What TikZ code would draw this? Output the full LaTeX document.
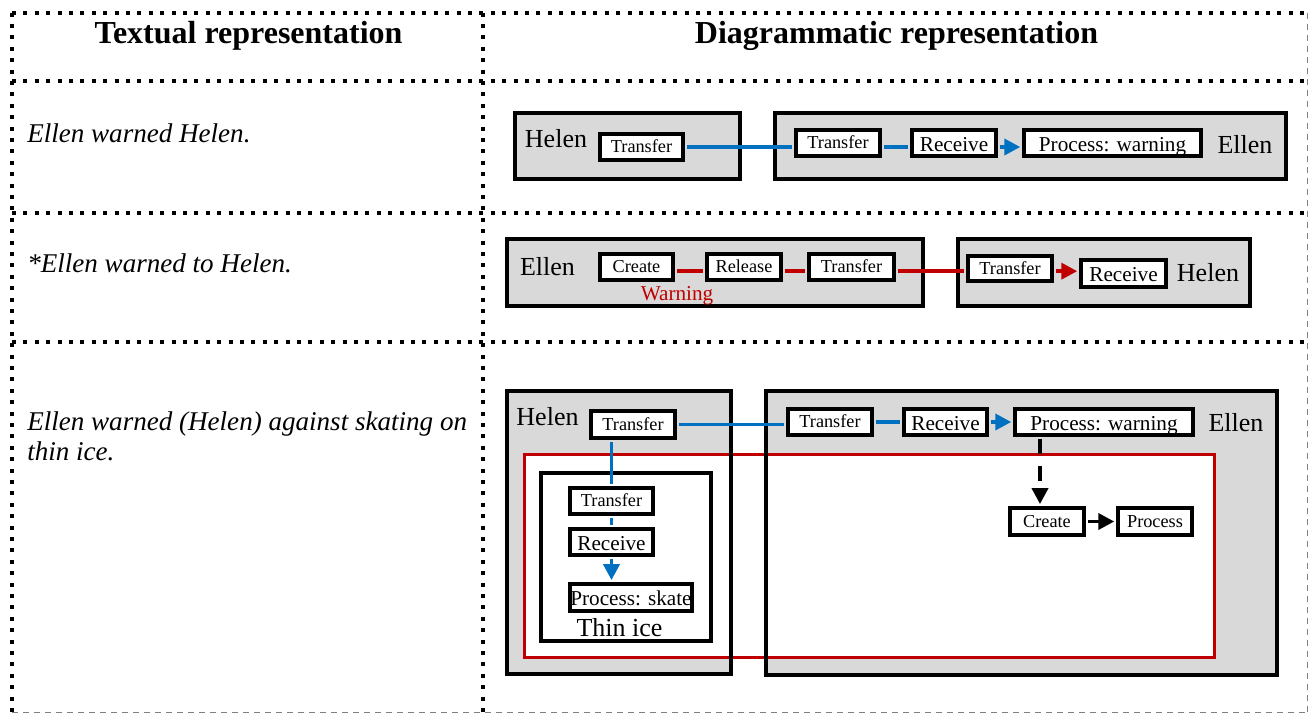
\documentclass[tikz,border=0pt]{standalone}
\usepackage{fontspec}
\setmainfont{Liberation Serif}
\usetikzlibrary{arrows.meta}
\definecolor{cblue}{HTML}{0070C0}
\definecolor{cred}{HTML}{C00000}
\definecolor{cgray}{HTML}{D9D9D9}
\newcommand{\pxu}{0.75pt}
\tikzset{
  sepdot/.style={line width=3pt, dash pattern=on 3pt off 5.55pt},
  sepgray/.style={line width=0.8pt, gray, dash pattern=on 4.5pt off 3.75pt},
  container/.style={line width=3pt, fill=cgray},
  evbox/.style={draw, line width=2.8pt, fill=white, inner sep=0pt, minimum height=19.5pt, text depth=0pt},
  smalltxt/.style={font=\fontsize{13.7}{15}\selectfont, text height=8.6pt, text depth=0pt},
  midtxt/.style={font=\fontsize{15.9}{18}\selectfont, text height=12.5pt, text depth=0pt},
  actor/.style={font=\fontsize{19.5}{22}\selectfont, inner sep=0pt},
  bodytxt/.style={font=\fontsize{20.3}{23}\selectfont\itshape, inner sep=0pt, anchor=base west},
  headtxt/.style={font=\fontsize{24}{28}\selectfont\bfseries, inner sep=0pt, anchor=base},
  conn/.style={line width=2.8pt, shorten <=1.4pt, shorten >=1.4pt},
  blueline/.style={conn, cblue},
  bluearrow/.style={blueline, -{Triangle[length=12pt,width=12pt]}},
  redline/.style={conn, cred},
  redarrow/.style={redline, -{Triangle[length=12pt,width=12pt]}},
  blackarrow/.style={conn, black, -{Triangle[length=12pt,width=12pt]}},
  blackdash/.style={blackarrow, dash pattern=on 11.25pt off 9.4pt},
}
\begin{document}
\begin{tikzpicture}[x=0.75pt, y=-0.75pt]
\useasboundingbox (0,0) rectangle (1309,714);

% table borders
\draw[sepdot] (12,12.5) -- (1308,12.5);
\draw[sepdot] (12,81) -- (1308,81);
\draw[sepdot] (12,213) -- (1308,213);
\draw[sepdot] (12,342) -- (1308,342);
\draw[sepdot] (12,12.5) -- (12,712);
\draw[sepdot] (483,12.5) -- (483,712);
\draw[sepgray] (1307.5,12.5) -- (1307.5,712.8);
\draw[sepgray] (12,712.8) -- (1307.5,712.8);

% headers
\node[headtxt] (h1) at (248.5,43.5) {Textual representation};
\node[headtxt] (h2) at (896.5,43.5) {Diagrammatic representation};

% left column texts
\node[bodytxt] (t1) at (27,142) {Ellen warned Helen.};
\node[bodytxt] (t2) at (27,272) {*Ellen warned to Helen.};
\node[bodytxt] (t3a) at (27,430) {Ellen warned (Helen) against skating on};
\node[bodytxt] (t3b) at (27,460.5) {thin ice.};

% ---------- Row 1 ----------
\draw[container] (515,113) rectangle (740,179);
\draw[container] (775,113) rectangle (1286,179);
\node[actor] (r1h) at (556,139) {Helen};
\node[actor] (r1e) at (1245,145) {Ellen};
\node[evbox, smalltxt, minimum width=83*\pxu] (r1t1) at (641.5,147) {Transfer};
\node[evbox, smalltxt, minimum width=84*\pxu] (r1t2) at (838,143) {Transfer};
\node[evbox, midtxt, minimum width=84*\pxu] (r1rc) at (954,143) {Receive};
\node[evbox, midtxt, minimum width=177*\pxu] (r1pw) at (1112.5,143) {Process: warning};
\draw[blueline] (r1t1.east) -- (r1t1.east -| r1t2.west);
\draw[blueline] ([yshift=-3pt]r1t2.east) -- ([yshift=-3pt]r1rc.west);
\draw[bluearrow] ([yshift=-3pt]r1rc.east) -- ([yshift=-3pt]r1pw.west);

% ---------- Row 2 ----------
\draw[container] (507,239) rectangle (923,306);
\draw[container] (958,239) rectangle (1250,306);
\node[actor] (r2e) at (547.5,267) {Ellen};
\node[actor] (r2h) at (1208,273) {Helen};
\node[evbox, smalltxt, minimum width=73*\pxu] (r2c) at (636.5,267) {Create};
\node[evbox, smalltxt, minimum width=74*\pxu] (r2rl) at (744,267) {Release};
\node[evbox, smalltxt, minimum width=85*\pxu] (r2t) at (851.5,267) {Transfer};
\node[evbox, smalltxt, minimum width=84*\pxu, minimum height=19pt] (r2t2) at (1010,268.5) {Transfer};
\node[evbox, midtxt, minimum width=85*\pxu, minimum height=20.5pt] (r2rc) at (1123.5,273.5) {Receive};
\node[midtxt, text=cred, inner sep=0pt] (warn) at (677,292) {Warning};
\draw[redline] ([yshift=-3pt]r2c.east) -- ([yshift=-3pt]r2rl.west);
\draw[redline] ([yshift=-3pt]r2rl.east) -- ([yshift=-3pt]r2t.west);
\draw[redline] ([yshift=-3pt]r2t.east) -- ([yshift=-3pt]r2t.east -| r2t2.west);
\draw[redarrow] ([yshift=-2pt]r2t2.east) -- ([yshift=-2pt]r2t2.east -| r2rc.west);

% ---------- Row 3 ----------
\fill[cgray] (507,391) rectangle (731,674);
\fill[cgray] (766,391) rectangle (1277,675);
\draw[cred, line width=2.5pt, fill=white] (524.5,454.5) rectangle (1214.5,657.5);
\draw[line width=3pt] (507,391) rectangle (731,674);
\draw[line width=3pt] (766,391) rectangle (1277,675);
\draw[line width=2.8pt, fill=white] (541,473) rectangle (711,641);
\node[actor] (r3h) at (547.5,417) {Helen};
\node[actor] (r3e) at (1236,423) {Ellen};
\node[actor] (thin) at (619.5,628) {Thin ice};
\node[evbox, smalltxt, minimum width=84*\pxu, minimum height=20.5pt] (r3t1) at (633,424.5) {Transfer};
\node[evbox, smalltxt, minimum width=83*\pxu] (r3it) at (611.5,501) {Transfer};
\node[evbox, midtxt, minimum width=83*\pxu] (r3ir) at (611.5,542) {Receive};
\node[evbox, midtxt, minimum width=122*\pxu, minimum height=20.5pt] (r3ps) at (631,597.5) {Process: skate};
\node[evbox, smalltxt, minimum width=84*\pxu] (r3t2) at (830,422) {Transfer};
\node[evbox, midtxt, minimum width=83*\pxu] (r3rc) at (945.5,422) {Receive};
\node[evbox, midtxt, minimum width=178*\pxu] (r3pw) at (1104,422) {Process: warning};
\node[evbox, smalltxt, minimum width=74*\pxu, minimum height=20.5pt] (r3cr) at (1047,521.5) {Create};
\node[evbox, smalltxt, minimum width=74*\pxu, minimum height=20.5pt] (r3pr) at (1155,521.5) {Process};
\draw[blueline] (r3t1.east) -- (r3t1.east -| r3t2.west);
\draw[blueline] (r3t2.east) -- (r3rc.west);
\draw[bluearrow] (r3rc.east) -- (r3pw.west);
\draw[blueline] (r3it.north |- r3t1.south) -- (r3it.north);
\draw[blueline] (r3it.south) -- (r3ir.north);
\draw[bluearrow] (r3ir.south) -- (r3ir.south |- r3ps.north);
\draw[blackdash] ([xshift=-5.25pt]r3cr.north |- r3pw.south) -- ([xshift=-5.25pt]r3cr.north);
\draw[blackarrow] (r3cr.east) -- (r3pr.west);
\end{tikzpicture}
\end{document}
